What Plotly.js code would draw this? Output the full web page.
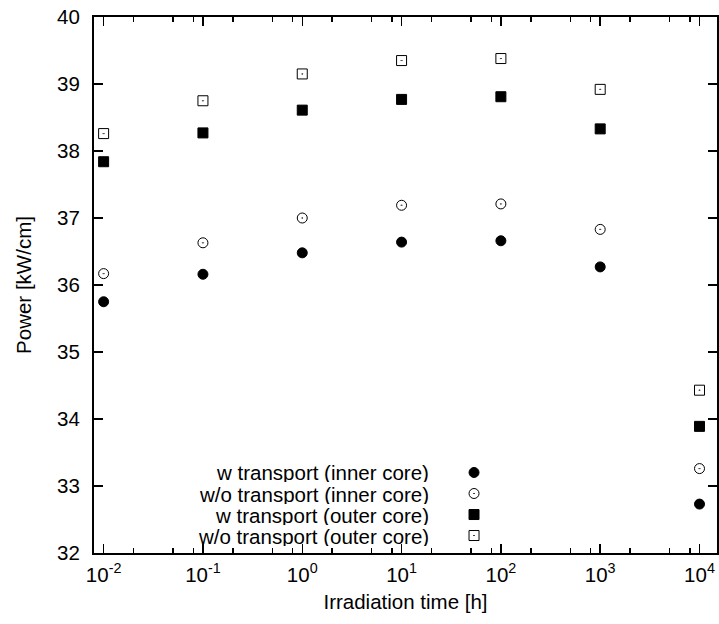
<!DOCTYPE html>
<html>
<head>
<meta charset="utf-8">
<script src="https://cdn.plot.ly/plotly-3.0.1.min.js"></script>
<style>html,body{margin:0;padding:0;background:#fff;}#chart{width:719px;height:624px;}</style>
</head>
<body>
<div id="chart"></div>
<script>
// Data
const irradiationTime = [0.01, 0.1, 1, 10, 100, 1000, 10000];
const wTransportInner  = [35.75, 36.16, 36.48, 36.64, 36.66, 36.27, 32.73];
const woTransportInner = [36.17, 36.63, 37.00, 37.19, 37.21, 36.83, 33.26];
const wTransportOuter  = [37.84, 38.27, 38.61, 38.77, 38.81, 38.33, 33.89];
const woTransportOuter = [38.26, 38.75, 39.15, 39.35, 39.38, 38.92, 34.43];
const seriesNames = [
  "w transport (inner core)",
  "w/o transport (inner core)",
  "w transport (outer core)",
  "w/o transport (outer core)"
];
const xTickVals = [0.01, 0.1, 1, 10, 100, 1000, 10000];
const xTickText = ["10<sup>-2</sup>", "10<sup>-1</sup>", "10<sup>0</sup>", "10<sup>1</sup>", "10<sup>2</sup>", "10<sup>3</sup>", "10<sup>4</sup>"];
const yTickVals = [32, 33, 34, 35, 36, 37, 38, 39, 40];
const minorMultipliers = [2, 5, 8];

const FONT = "Liberation Sans, Arial, Helvetica, sans-serif";
const FS = 20.5;
const symbols = ["circle", "circle-open-dot", "square", "square-open-dot"];
const seriesValues = [wTransportInner, woTransportInner, wTransportOuter, woTransportOuter];

const traces = seriesValues.map((vals, i) => ({
  type: "scatter", mode: "markers",
  x: irradiationTime, y: vals, name: seriesNames[i],
  marker: {symbol: symbols[i], size: 10, color: "#000",
           line: {color: i === 3 ? "#333" : "#000", width: 1}},
  showlegend: false, hoverinfo: "skip"
}));

// legend keys (drawn on hidden overlay axes, right of the legend text)
const legendYs = [0.1502, 0.1110, 0.0718, 0.0326];
const legendKeyX = 0.61;
const legendTextX = 0.539;
seriesNames.forEach((n, i) => {
  traces.push({
    type: "scatter", mode: "markers", xaxis: "x2", yaxis: "y2",
    x: [legendKeyX], y: [legendYs[i]],
    marker: {symbol: symbols[i], size: 10, color: "#000",
             line: {color: i === 3 ? "#333" : "#000", width: 1}},
    showlegend: false, hoverinfo: "skip"
  });
});

const minorVals = [];
xTickVals.forEach(d => minorMultipliers.forEach(m => { if (d * m < 15000) minorVals.push(d * m); }));

const annotations = seriesNames.map((n, i) => ({
  xref: "paper", yref: "paper", x: legendTextX, y: legendYs[i],
  xanchor: "right", yanchor: "middle", text: n, showarrow: false,
  height: 20, valign: "middle", borderpad: 0,
  font: {family: FONT, size: FS, color: "#000"}
}));

const layout = {
  width: 719, height: 624,
  margin: {l: 94, r: 2, t: 17, b: 71},
  paper_bgcolor: "#fff", plot_bgcolor: "#fff",
  font: {family: FONT, size: FS, color: "#000"},
  showlegend: false,
  xaxis: {
    type: "log", range: [Math.log10(0.008), Math.log10(15000)],
    tickmode: "array", tickvals: xTickVals, ticktext: xTickText,
    ticks: "inside", ticklen: 9, tickwidth: 1.5, tickcolor: "#000",
    showline: true, linewidth: 2, linecolor: "#000", mirror: "allticks",
    showgrid: false, zeroline: false,
    tickfont: {family: FONT, size: FS, color: "#000"},
    ticklabelstandoff: 2,
    ticklabeloverflow: "allow",
    minor: {tickmode: "array", tickvals: minorVals, ticks: "inside", ticklen: 5, tickwidth: 1.5, tickcolor: "#000", showgrid: false},
    title: {text: "Irradiation time [h]", font: {family: FONT, size: FS, color: "#000"}, standoff: 10},
    automargin: false
  },
  yaxis: {
    range: [32, 40], tickmode: "array", tickvals: yTickVals,
    ticks: "inside", ticklen: 9, tickwidth: 1.5, tickcolor: "#000",
    showline: true, linewidth: 2, linecolor: "#000", mirror: "allticks",
    showgrid: false, zeroline: false,
    tickfont: {family: FONT, size: FS, color: "#000"},
    ticklabelstandoff: 8,
    title: {text: "Power [kW/cm]", font: {family: FONT, size: FS, color: "#000"}, standoff: 20},
    automargin: false
  },
  xaxis2: {overlaying: "x", range: [0, 1], visible: false, fixedrange: true},
  yaxis2: {overlaying: "y", range: [0, 1], visible: false, fixedrange: true},
  annotations: annotations
};

Plotly.newPlot("chart", traces, layout, {displayModeBar: false, staticPlot: true});
</script>
</body>
</html>
